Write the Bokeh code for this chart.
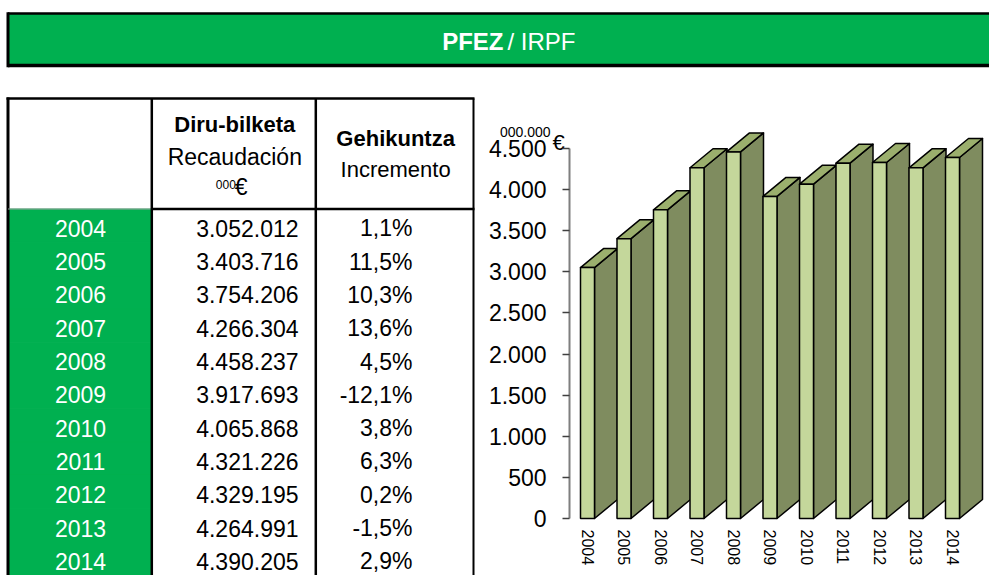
from bokeh.plotting import figure
from bokeh.layouts import column, row
from bokeh.models import Range1d, FixedTicker, LinearAxis
from bokeh.core.properties import value
from bokeh.embed import file_html
from bokeh.resources import INLINE

# ---------------- data ----------------
years = ["2004", "2005", "2006", "2007", "2008", "2009", "2010", "2011", "2012", "2013", "2014"]
recaudacion_miles = [3052012, 3403716, 3754206, 4266304, 4458237, 3917693,
                     4065868, 4321226, 4329195, 4264991, 4390205]          # 000 €
incremento = ["1,1%", "11,5%", "10,3%", "13,6%", "4,5%", "-12,1%",
              "3,8%", "6,3%", "0,2%", "-1,5%", "2,9%"]
y_ticks = [0, 500, 1000, 1500, 2000, 2500, 3000, 3500, 4000, 4500]
y_tick_labels = ["0", "500", "1.000", "1.500", "2.000", "2.500", "3.000", "3.500", "4.000", "4.500"]

title_bold = "PFEZ"
title_rest = "/ IRPF"
header_col1 = ["Diru-bilketa", "Recaudación"]
header_col2 = ["Gehikuntza", "Incremento"]
unit_small = "000.000"
unit_sign = "€"

# ---------------- styles ----------------
FONT = "Liberation Sans"
GREEN = "#00B050"
FRONT = "#C4D79B"
SIDE = "#7F8C5F"
TOP = "#9BAF6D"

recaudacion_txt = [f"{v:,}".replace(",", ".") for v in recaudacion_miles]
recaudacion_mill = [v / 1000 for v in recaudacion_miles]   # 000.000 €
n = len(years)


def bare(width, height, xr, yr):
    f = figure(width=width, height=height, x_range=xr, y_range=yr,
               output_backend="svg", toolbar_location=None, min_border=0,
               x_axis_type=None, y_axis_type=None, outline_line_color=None)
    f.grid.visible = False
    return f


# ---------------- banner ----------------
BW, BH = 989, 78
banner = bare(BW, BH, Range1d(0, BW), Range1d(BH, 0))
b_top, b_bot, b_left = 13, 65, 7.5
banner.quad(left=[b_left], right=[BW + 5], top=[b_top], bottom=[b_bot], fill_color=GREEN, line_color=None)
banner.segment(x0=[b_left], y0=[b_top], x1=[BW + 5], y1=[b_top], line_color="black", line_width=2.5)
banner.segment(x0=[b_left], y0=[b_bot], x1=[BW + 5], y1=[b_bot], line_color="black", line_width=3.5)
banner.segment(x0=[b_left], y0=[b_top - 1.2], x1=[b_left], y1=[b_bot + 1.7], line_color="black", line_width=3)
tmid = 40.5
banner.text(x=[503], y=[tmid], text=[title_bold], text_align="right", text_baseline="middle",
            text_font=value(FONT), text_font_style="bold", text_font_size="24px", text_color="white")
banner.text(x=[507], y=[tmid], text=[title_rest], text_align="left", text_baseline="middle",
            text_font=value(FONT), text_font_size="24px", text_color="white")

# ---------------- table ----------------
TW, TH = 475, 497
table = bare(TW, TH, Range1d(0, TW), Range1d(TH, 0))
HT, HB, RH = 20, 130.5, 33.3
LB, C1, C2, RB = 7.5, 151.3, 315.3, 473
tops = [HB + i * RH for i in range(n)]
bots = [HB + (i + 1) * RH for i in range(n)]
mids = [HB + (i + 0.58) * RH for i in range(n)]
table.quad(left=[LB] * n, right=[C1] * n, top=tops, bottom=bots[:-1] + [TH + 5],
           fill_color=GREEN, line_color=GREEN, line_width=1)
table.segment(x0=[LB - 1.5], y0=[HT], x1=[RB + 1], y1=[HT], line_color="black", line_width=2.5)
table.segment(x0=[LB], y0=[HT - 1], x1=[LB], y1=[TH + 5], line_color="black", line_width=3)
table.segment(x0=[LB], y0=[HB], x1=[C1], y1=[HB], line_color="#A0A0A0", line_width=1)
table.segment(x0=[C1], y0=[HB], x1=[RB + 1], y1=[HB], line_color="black", line_width=2.5)
table.segment(x0=[C1, C2], y0=[HT, HT], x1=[C1, C2], y1=[TH + 5, TH + 5], line_color="black", line_width=2.5)
table.segment(x0=[RB], y0=[HT], x1=[RB], y1=[TH + 5], line_color="black", line_width=2)
cx1 = (C1 + C2) / 2 + 1
cx2 = (C2 + RB) / 2
table.text(x=[cx1], y=[HT + 26], text=[header_col1[0]], text_align="center", text_baseline="middle",
           text_font=value(FONT), text_font_style="bold", text_font_size="22px", text_color="black")
table.text(x=[cx1], y=[HT + 58], text=[header_col1[1]], text_align="center", text_baseline="middle",
           text_font=value(FONT), text_font_size="23px", text_color="black")
table.text(x=[cx1 + 1], y=[HT + 86], text=["000"], text_align="right", text_baseline="middle",
           text_font=value(FONT), text_font_size="12px", text_color="black")
table.text(x=[cx1], y=[HT + 88], text=["€"], text_align="left", text_baseline="middle",
           text_font=value(FONT), text_font_size="23px", text_color="black")
table.text(x=[cx2 + 1], y=[HT + 40], text=[header_col2[0]], text_align="center", text_baseline="middle",
           text_font=value(FONT), text_font_style="bold", text_font_size="22px", text_color="black")
table.text(x=[cx2 + 1], y=[HT + 71], text=[header_col2[1]], text_align="center", text_baseline="middle",
           text_font=value(FONT), text_font_size="22px", text_color="black")
table.text(x=[80] * n, y=mids, text=years, text_align="center", text_baseline="middle",
           text_font=value(FONT), text_font_size="23px", text_color="white")
table.text(x=[298] * n, y=mids, text=recaudacion_txt, text_align="right", text_baseline="middle",
           text_font=value(FONT), text_font_size="23px", text_color="black")
table.text(x=[412] * n, y=mids, text=incremento, text_align="right", text_baseline="middle",
           text_font=value(FONT), text_font_size="23px", text_color="black")

# ---------------- 3D bar chart ----------------
CX0, CW, CH = 475, 514, 497          # chart placed right of the table
PITCH = 36.5                         # px per category
X0PX = 587                           # px of first category centre
ZERO_PX, PX_PER_4500 = 518 - 78, 370  # zero line (local px) and 0..4500 span
XS = (CX0 - X0PX) / PITCH
XE = XS + CW / PITCH
U = 4500 / PX_PER_4500               # value units per px
YS = -(CH - ZERO_PX) * U
YE = ZERO_PX * U
chart = bare(CW, CH, Range1d(XS, XE), Range1d(YS, YE))

HALF = 7 / PITCH
DX = 23 / PITCH
DY = 19 * U
idx = list(range(n))
xl = [i - HALF for i in idx]
xr = [i + HALF for i in idx]
v = recaudacion_mill
side_xs = [[r, r + DX, r + DX, r] for r in xr]
side_ys = [[0, DY, h + DY, h] for h in v]
top_xs = [[l, r, r + DX, l + DX] for l, r in zip(xl, xr)]
top_ys = [[h, h, h + DY, h + DY] for h in v]
chart.patches(xs=side_xs, ys=side_ys, fill_color=SIDE, line_color="black", line_width=1.5, line_join="round")
chart.patches(xs=top_xs, ys=top_ys, fill_color=TOP, line_color="black", line_width=1.5, line_join="round")
chart.quad(left=xl, right=xr, bottom=0, top=v, fill_color=FRONT, line_color="black", line_width=1.5)

ya = LinearAxis(fixed_location=(569 - X0PX) / PITCH)
ya.ticker = FixedTicker(ticks=y_ticks)
ya.major_label_overrides = {t: s for t, s in zip(y_ticks, y_tick_labels)}
ya.bounds = (0, 4500)
ya.axis_line_color = "#7F7F7F"
ya.axis_line_width = 2
ya.major_tick_line_color = "#404040"
ya.major_tick_line_width = 1.5
ya.major_tick_out = 7
ya.major_tick_in = 0
ya.minor_tick_line_color = None
ya.major_label_standoff = 16
ya.major_label_text_font = FONT
ya.major_label_text_font_size = "23px"
ya.major_label_text_color = "black"
chart.add_layout(ya, "left")

xa = LinearAxis(fixed_location=0)
xa.ticker = FixedTicker(ticks=idx)
xa.major_label_overrides = {i: y for i, y in zip(idx, years)}
xa.axis_line_color = None
xa.major_tick_line_color = None
xa.minor_tick_line_color = None
xa.major_label_orientation = "vertical"
xa.major_label_standoff = 5
xa.major_label_text_font = FONT
xa.major_label_text_font_size = "16px"
xa.major_label_text_color = "black"
chart.add_layout(xa, "below")

chart.text(x=[(550 - X0PX) / PITCH], y=[(518 - 131) * U], text=[unit_small], text_align="right",
           text_baseline="alphabetic", text_font=value(FONT), text_font_size="14px", text_color="black")
chart.text(x=[(552 - X0PX) / PITCH], y=[(518 - 142) * U], text=[unit_sign], text_align="left",
           text_baseline="alphabetic", text_font=value(FONT), text_font_size="22px", text_color="black")

layout = column(banner, row(table, chart))
open("out.html", "w").write(file_html(layout, INLINE))
